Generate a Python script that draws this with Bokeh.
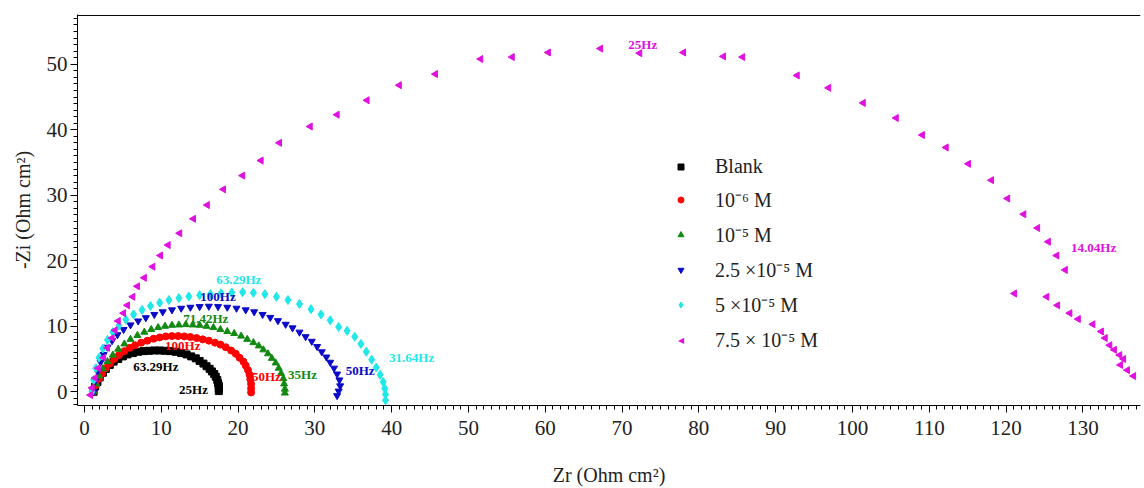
import math
from bokeh.plotting import figure
from bokeh.models import (Range1d, Span, Legend, LegendItem, Label, SingleIntervalTicker)
from bokeh.core.properties import value
from bokeh.embed import file_html
from bokeh.resources import INLINE

# ---------------- data ----------------
blank_zr = [1.2, 1.4, 1.7, 2.0, 2.4, 2.8, 3.3, 3.8, 4.4, 5.0, 5.6, 6.3, 7.0, 7.7, 8.4, 9.1, 9.8, 10.5,
            11.2, 11.9, 12.6, 13.3, 13.9, 14.5, 15.0, 15.5, 15.9, 16.3, 16.6, 16.9, 17.1, 17.3, 17.4,
            17.5, 17.5, 17.5]
blank_zi = [0.0, 0.8, 1.5, 2.2, 2.9, 3.5, 4.1, 4.6, 5.0, 5.4, 5.7, 5.9, 6.1, 6.2, 6.25, 6.3, 6.3, 6.25,
            6.2, 6.1, 5.9, 5.7, 5.4, 5.1, 4.7, 4.3, 3.9, 3.5, 3.1, 2.7, 2.3, 1.8, 1.3, 0.9, 0.5, 0.1]

m6_zr = [1.2, 1.5, 1.9, 2.3, 2.8, 3.3, 3.9, 4.5, 5.2, 5.9, 6.6, 7.4, 8.2, 9.0, 9.8, 10.6, 11.4, 12.2,
         13.0, 13.8, 14.6, 15.4, 16.2, 17.0, 17.7, 18.4, 19.1, 19.7, 20.2, 20.7, 21.0, 21.3, 21.5,
         21.6, 21.7, 21.7, 21.7]
m6_zi = [0.0, 1.0, 2.0, 2.8, 3.6, 4.3, 5.0, 5.6, 6.2, 6.7, 7.1, 7.5, 7.8, 8.1, 8.3, 8.45, 8.5, 8.5,
         8.45, 8.35, 8.2, 8.0, 7.8, 7.5, 7.2, 6.8, 6.3, 5.8, 5.2, 4.6, 4.0, 3.3, 2.6, 1.9, 1.2, 0.5, -0.1]

m5_zr = [1.2, 1.5, 1.9, 2.4, 3.0, 3.7, 4.4, 5.2, 6.0, 6.9, 7.8, 8.7, 9.6, 10.5, 11.4, 12.3, 13.2, 14.1,
         15.0, 15.9, 16.8, 17.7, 18.6, 19.5, 20.4, 21.2, 22.0, 22.7, 23.3, 23.9, 24.4, 24.9, 25.3,
         25.6, 25.9, 26.0, 26.1, 26.1]
m5_zi = [0.0, 1.2, 2.4, 3.5, 4.6, 5.6, 6.5, 7.3, 8.0, 8.6, 9.1, 9.5, 9.8, 10.0, 10.15, 10.2, 10.25, 10.2,
         10.15, 10.0, 9.8, 9.5, 9.2, 8.9, 8.5, 8.0, 7.5, 7.0, 6.4, 5.8, 5.1, 4.4, 3.6, 2.8, 2.0, 1.2,
         0.4, -0.2]

m25_zr = [1.2, 1.4, 1.7, 2.1, 2.5, 3.0, 3.6, 4.3, 5.1, 6.0, 7.0, 8.0, 9.1, 10.2, 11.4, 12.6, 13.8, 15.0,
          16.2, 17.4, 18.6, 19.8, 21.0, 22.1, 23.2, 24.2, 25.2, 26.2, 27.1, 28.0, 28.8, 29.6, 30.3,
          30.9, 31.5, 32.0, 32.5, 32.9, 33.2, 33.3, 33.1, 32.9]
m25_zi = [0.0, 1.6, 3.1, 4.5, 5.7, 6.8, 7.8, 8.7, 9.5, 10.2, 10.8, 11.3, 11.8, 12.2, 12.5, 12.75, 12.9,
          13.0, 13.05, 13.0, 12.9, 12.75, 12.5, 12.2, 11.8, 11.35, 10.85, 10.3, 9.75, 9.1, 8.4, 7.7,
          6.9, 6.1, 5.3, 4.5, 3.6, 2.7, 1.8, 0.9, 0.1, -0.6]

m50_zr = [1.0, 1.2, 1.5, 1.9, 2.4, 3.0, 3.7, 4.5, 5.4, 6.4, 7.5, 8.6, 9.8, 11.0, 12.3, 13.6, 15.0, 16.4,
          17.8, 19.2, 20.6, 22.0, 23.5, 25.0, 26.5, 28.0, 29.5, 30.8, 32.0, 33.1, 34.2, 35.2, 36.0,
          36.7, 37.4, 38.0, 38.5, 38.9, 39.1, 39.2, 39.2]
m50_zi = [0.0, 1.8, 3.6, 5.2, 6.6, 7.9, 9.1, 10.1, 11.0, 11.8, 12.5, 13.1, 13.6, 14.0, 14.3, 14.55, 14.75,
          14.9, 15.05, 15.15, 15.2, 15.1, 14.9, 14.5, 14.0, 13.4, 12.6, 11.8, 10.9, 9.9, 9.3, 8.4, 7.3,
          6.1, 4.9, 3.7, 2.6, 1.5, 0.5, -0.4, -1.3]

m75_zr = [0.8, 1.0, 1.4, 1.8, 2.5, 3.0, 3.6, 4.0, 4.4, 5.1, 5.6, 6.3, 6.9, 7.8, 8.9, 9.9, 10.9, 12.4,
          14.2, 16.0, 18.1, 20.6, 23.0, 25.4, 29.4, 32.9, 36.8, 41.0, 45.7, 51.6, 55.7, 60.4, 67.2,
          72.3, 78.0, 83.2, 85.7, 92.8, 96.9, 101.4, 105.7, 109.1, 112.2, 115.1, 118.1, 120.2, 122.3,
          124.1, 125.5, 126.6, 127.7, 121.1, 125.3, 126.7, 128.3, 129.4, 131.3, 132.4, 132.9, 133.5,
          134.1, 134.8, 135.3, 134.9, 135.8, 136.6]
m75_zi = [-0.5, 0.6, 2.1, 3.6, 5.2, 6.7, 8.2, 9.4, 10.8, 12.0, 13.2, 14.5, 16.1, 17.4, 19.1, 20.8, 22.4,
          24.2, 26.4, 28.5, 30.9, 33.0, 35.3, 38.0, 40.5, 42.3, 44.5, 46.8, 48.5, 50.8, 51.1, 51.8, 52.4,
          51.7, 51.8, 51.2, 51.1, 48.3, 46.4, 44.1, 41.8, 39.2, 37.3, 34.8, 32.3, 29.5, 27.1, 25.0,
          22.9, 20.8, 18.6, 15.0, 14.5, 13.2, 12.0, 11.1, 10.3, 9.2, 8.2, 7.1, 6.4, 5.6, 5.0, 4.1,
          3.3, 2.4]

series_labels = ["Blank", "10\u207b\u2076 M", "10\u207b\u2075 M", "2.5 \u00d710\u207b\u2075 M",
                 "5 \u00d710\u207b\u2075 M", "7.5 \u00d7 10\u207b\u2075 M"]

freq_text = ["63.29Hz", "25Hz", "100Hz", "50Hz", "71.42Hz", "35Hz", "100Hz", "50Hz",
             "63.29Hz", "31.64Hz", "25Hz", "14.04Hz"]
freq_x = [9.3, 14.2, 12.8, 23.7, 15.8, 28.4, 17.4, 35.9, 20.1, 42.6, 72.7, 131.4]
freq_y = [3.9, 0.3, 7.1, 2.4, 11.2, 2.6, 14.6, 3.3, 17.2, 5.2, 53.0, 22.1]
freq_series = [0, 0, 1, 1, 2, 2, 3, 3, 4, 4, 5, 5]

# ---------------- styles ----------------
colors = ["#000000", "#FF0000", "#128A12", "#0A0AC8", "#1FE8E8", "#E010E0"]
markers = ["square", "circle", "triangle", "inverted_triangle", "diamond", "triangle"]
angles = [0, 0, 0, 0, 0, math.pi / 2]
sizes = [7, 7, 7, 7, 9, 7]
FONT = "Liberation Serif"

p = figure(width=1142, height=488, output_backend="svg", toolbar_location=None,
           x_range=Range1d(-0.9, 137.5), y_range=Range1d(-2.1, 57.6),
           min_border_left=77, min_border_right=2, min_border_top=14, min_border_bottom=80,
           background_fill_color="white", border_fill_color="white")
p.outline_line_color = None
p.xgrid.visible = False
p.ygrid.visible = False

p.xaxis.ticker = SingleIntervalTicker(interval=10, num_minor_ticks=10)
p.yaxis.ticker = SingleIntervalTicker(interval=10, num_minor_ticks=10)

for ax in (p.xaxis[0], p.yaxis[0]):
    ax.axis_line_color = "black"
    ax.axis_line_width = 1
    ax.major_tick_line_color = "black"
    ax.minor_tick_line_color = "black"
    ax.major_tick_out = 7
    ax.major_tick_in = 0
    ax.minor_tick_out = 4
    ax.minor_tick_in = 0
    ax.major_label_text_font = FONT
    ax.major_label_text_font_size = "21px"
    ax.major_label_text_color = "#222222"
    ax.axis_label_text_font = FONT
    ax.axis_label_text_font_size = "20px"
    ax.axis_label_text_font_style = "normal"
    ax.axis_label_text_color = "#222222"

p.xaxis.axis_label = "Zr (Ohm cm\u00b2)"
p.yaxis.axis_label = "-Zi (Ohm cm\u00b2)"
p.xaxis.major_label_standoff = 8
p.xaxis.axis_label_standoff = 26
p.yaxis.major_label_standoff = 3
p.yaxis.axis_label_standoff = 10

p.add_layout(Span(location=57.45, dimension="width", line_color="black", line_width=1))

series = [(blank_zr, blank_zi), (m6_zr, m6_zi), (m5_zr, m5_zi), (m25_zr, m25_zi),
          (m50_zr, m50_zi), (m75_zr, m75_zi)]
renderers = []
for i, (zr, zi) in enumerate(series):
    r = p.scatter(zr, zi, marker=markers[i], size=sizes[i], angle=angles[i],
                  fill_color=colors[i], line_color=colors[i])
    renderers.append(r)

for t, x, y, s in zip(freq_text, freq_x, freq_y, freq_series):
    p.text(x=[x], y=[y], text=[t], text_color=colors[s], text_font=value(FONT),
           text_font_size="13px", text_font_style="bold", text_align="center",
           text_baseline="middle")

# legend: the left-pointing triangle cannot be drawn rotated by the legend itself,
# so its entry uses an invisible stand-in and a small glyph label drawn on top.
ghost = p.scatter(x=[], y=[], marker="triangle", size=1, fill_alpha=0, line_alpha=0)
legend_renderers = renderers[:5] + [ghost]

LEG_X, LEG_Y, GLYPH = 596, 52, 15
legend = Legend(items=[LegendItem(label=series_labels[i], renderers=[legend_renderers[i]])
                       for i in range(6)],
                location=(LEG_X, LEG_Y), padding=0, margin=0, spacing=8,
                glyph_width=GLYPH, glyph_height=GLYPH, label_height=20, label_standoff=27,
                label_text_font=FONT, label_text_font_size="20px", label_text_color="#222222",
                border_line_color=None, background_fill_alpha=0)
p.add_layout(legend)

p.add_layout(Label(x=LEG_X + GLYPH / 2, y=LEG_Y + 13, x_units="screen", y_units="screen",
                   text="\u25c0", text_font="DejaVu Sans", text_font_size="8px",
                   text_color=colors[5], text_align="center", text_baseline="middle"))

open("out.html", "w").write(file_html(p, INLINE))
